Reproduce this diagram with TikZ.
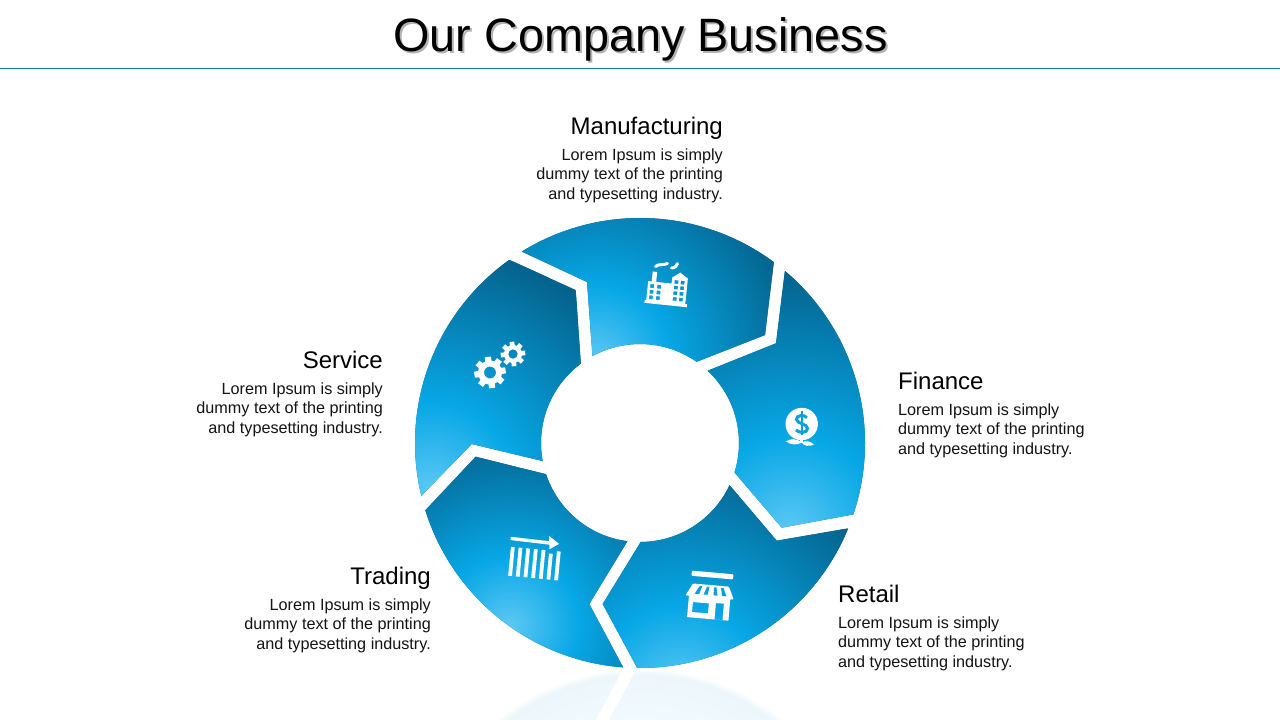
\documentclass[tikz,border=0pt]{standalone}
\usepackage{fontspec}
\setmainfont{Liberation Sans}
\definecolor{seglite}{HTML}{5CC8F4}
\definecolor{segbright}{HTML}{07A7E6}
\definecolor{segdark}{HTML}{04628C}
\definecolor{iconblue}{HTML}{089FDC}
\definecolor{rulecol}{HTML}{0B7FAB}
\definecolor{reflA}{HTML}{EDF7FB}
\definecolor{reflB}{HTML}{F1FAFE}
\pgfdeclareradialshading{seggrad}{\pgfpoint{0bp}{0bp}}{color(0bp)=(seglite); color(9bp)=(segbright); color(25bp)=(segdark); color(50bp)=(segdark)}
\pgfdeclareradialshading{reflgrad}{\pgfpoint{0bp}{0bp}}{color(0bp)=(reflB); color(18.9bp)=(reflB); color(24.3bp)=(reflA); color(25bp)=(white); color(50bp)=(white)}
\def\RCY{443}
\newcommand\Ring[6]{([shift={(640,\RCY)}]#1:225) arc[start angle=#1,end angle=#2,radius=225] -- (#3) -- ([shift={(640,\RCY)}]#4:99) arc[start angle=#4,end angle=#5,radius=99] -- (#6) -- cycle}
\newcommand\Segment[8]{\begin{scope}\clip \Ring{#1}{#2}{#3}{#4}{#5}{#6};\fill[segdark] (400,200) rectangle (880,680);\shade[shading=seggrad] (#7) circle[radius=#8];\end{scope}}
\newcommand\Gear[6]{% cx,cy, outer, root, hole, rot
 \begin{scope}[shift={(#1,#2)},rotate=#6]
 \fill[white,even odd rule] (-11:#3)
  \foreach \a in {0,45,...,315}{ -- (\a-11:#3) -- (\a+11:#3) -- (\a+15:#4) -- (\a+30:#4)} -- cycle (0,0) circle[radius=#5];
 \end{scope}}
\tikzset{
 x=1pt,y=-1pt,
 headtext/.style={inner sep=0pt,font=\fontsize{24}{28}\selectfont,text=black},
 bodytext/.style={inner sep=0pt,font=\fontsize{16.2}{19.5}\selectfont,text=black!92},
}
\begin{document}
\begin{tikzpicture}
\useasboundingbox (0,0) rectangle (1280,720);
\fill[white] (0,0) rectangle (1280,720);
% reflection
\begin{scope}
\clip (0,0) rectangle (1280,720);
\def\RCY{893}
\begin{scope}\clip \Ring{-22.3}{-90.7}{602.7,732}{-89.6}{-25.2}{776.7,795.3};
\shade[shading=reflgrad] (640,893) circle[radius=225];\end{scope}
\begin{scope}\clip \Ring{-94.3}{-162.6}{475.7,879.3}{-161.6}{-97.3}{589.3,732};
\shade[shading=reflgrad] (640,893) circle[radius=225];\end{scope}
\end{scope}
\def\RCY{443}
% title
\node[inner sep=0pt,anchor=base,text=black,opacity=.3,font=\fontsize{46.8}{50}\selectfont] (titleshadow) at (642.5,53) {Our Company Business};
\node[inner sep=0pt,anchor=base,text=black,font=\fontsize{46.8}{50}\selectfont] (title) at (640.5,51) {Our Company Business};
\draw[rulecol,line width=1pt] (0,68.5) -- (1280,68.5);
% ring
\Segment{-121.7}{-53.5}{765,335}{-55.1}{-118.7}{587,282}{595,360}{205}
\Segment{-49.9}{18.5}{781.7,527.7}{17.3}{-46.9}{776,343.3}{790,530}{259}
\Segment{22.3}{90.7}{602.7,604}{89.6}{25.2}{776.7,540.7}{680,690}{232}
\Segment{94.3}{162.6}{475.7,456.7}{161.6}{97.3}{589.3,604}{510,625}{190}
\Segment{166.4}{234.5}{575.7,290}{233.3}{169.5}{471.7,444}{430,490}{243}
% factory
\begin{scope}[shift={(666.5,284)},rotate=-6]
\fill[white,even odd rule] (-20,18) -- (-18.5,18) -- (-18.5,-1) -- (-15,-1) -- (-15,-11) -- (-10.5,-11) -- (-10.5,-1) -- (5,-1) -- (5,-7) -- (12.5,-12.8) -- (20.7,-7.5) -- (20.7,18) -- (22.6,18) -- (22.6,21) -- (-20,21) -- cycle
 (-16,1.6) rectangle (-12.2,5.4) (-9,1.6) rectangle (-5.2,5.4)
 (-16,7.4) rectangle (-12.2,11.2) (-9,7.4) rectangle (-5.2,11.2)
 (-16,13) rectangle (-12.2,16.8) (-9,13) rectangle (-5.2,16.8)
 (7.8,-4.8) rectangle (11.6,-1.2) (14,-4.8) rectangle (17.8,-1.2)
 (7.8,0.8) rectangle (11.6,4.4) (14,0.8) rectangle (17.8,4.4)
 (7.8,6.4) rectangle (11.6,10) (14,6.4) rectangle (17.8,10)
 (7.8,12.2) rectangle (11.6,15.8) (14,12.2) rectangle (17.8,15.8);
\end{scope}
\draw[white,line width=3pt,line cap=round] (655.5,266.5) .. controls (659,263.5) and (663,265.5) .. (667.5,263.5);
\draw[white,line width=3pt,line cap=round] (671.5,268) .. controls (675,268) and (677,266) .. (677.5,263.5);
% gears
\Gear{490}{372.5}{16}{12}{6}{8}
\Gear{513}{354}{12.5}{9}{4.8}{5}
% dollar plant
\fill[white] (801.7,424) circle[radius=16.2];
\fill[white] (800.4,438) rectangle (803,443);
\fill[white] (802,442.5) .. controls (796,438) and (790,438.5) .. (786,441.5) .. controls (791,445) and (797,445.5) .. (802,442.5) -- cycle;
\fill[white] (801.5,442.5) .. controls (806,440) and (810,441) .. (814,444.5) .. controls (809,447) and (804,446) .. (801.5,442.5) -- cycle;
\draw[iconblue,line width=3pt] (807,417.5) .. controls (804,414.5) and (796,415) .. (796.5,419.5) .. controls (797,424) and (807.5,423.5) .. (807.5,428.5) .. controls (807.5,433) and (799,433.5) .. (796,430);
\draw[iconblue,line width=2.4pt] (802,410.5) -- (802,435);
% store
\begin{scope}[shift={(710,596)},rotate=-5]
\fill[white,rounded corners=1pt] (-20.3,-23.7) rectangle (21.5,-18.5);
\fill[white,rounded corners=1pt] (-18,-11) -- (18,-11) -- (24,1.5) -- (-24.5,1.5) -- cycle;
\fill[iconblue] (-11,-9) -- (-8.5,-9) -- (-11,-1) -- (-15.5,-1) -- cycle;
\fill[iconblue] (-3.7,-9) -- (-1.3,-9) -- (-2.5,-1) -- (-6.5,-1) -- cycle;
\fill[iconblue] (3.3,-9) -- (5.7,-9) -- (7.5,-1) -- (3.5,-1) -- cycle;
\fill[iconblue] (10.3,-9) -- (12.8,-9) -- (16.5,-1) -- (12,-1) -- cycle;
\fill[white,even odd rule] (-21,1) rectangle (20.5,23) (-16.5,7.5) rectangle (-0.5,17.5) (6.5,6.5) rectangle (14.5,23);
\end{scope}
% trading
\begin{scope}[shift={(533,563)},rotate=-5.5]
\foreach \i/\t in {0/-14,1/-14,2/-14,3/-14,4/-14,5/-11,6/-14}{
 \fill[white] ({-23.5+7.7*\i},\t) rectangle ({-19.7+7.7*\i},15);
}
\fill[white] (-24.6,-24) -- (13.6,-23.3) -- (13.6,-28.4) -- (24.1,-21.5) -- (14.9,-15.2) -- (14.5,-19.8) -- (-24.6,-20.7) -- cycle;
\end{scope}
% labels
\node[headtext,anchor=base east] (manh) at (723,134) {Manufacturing};
\node[bodytext,anchor=north east,align=right] (manb) at (723,148.3) {Lorem Ipsum is simply\\dummy text of the printing\\and typesetting industry.};
\node[headtext,anchor=base west] (finh) at (898,389) {Finance};
\node[bodytext,anchor=north west,align=left] (finb) at (898,403.3) {Lorem Ipsum is simply\\dummy text of the printing\\and typesetting industry.};
\node[headtext,anchor=base west] (reth) at (838,602) {Retail};
\node[bodytext,anchor=north west,align=left] (retb) at (838,616.3) {Lorem Ipsum is simply\\dummy text of the printing\\and typesetting industry.};
\node[headtext,anchor=base east] (trah) at (431,584) {Trading};
\node[bodytext,anchor=north east,align=right] (trab) at (431,598.3) {Lorem Ipsum is simply\\dummy text of the printing\\and typesetting industry.};
\node[headtext,anchor=base east] (serh) at (383,368) {Service};
\node[bodytext,anchor=north east,align=right] (serb) at (383,382.3) {Lorem Ipsum is simply\\dummy text of the printing\\and typesetting industry.};
\end{tikzpicture}
\end{document}
